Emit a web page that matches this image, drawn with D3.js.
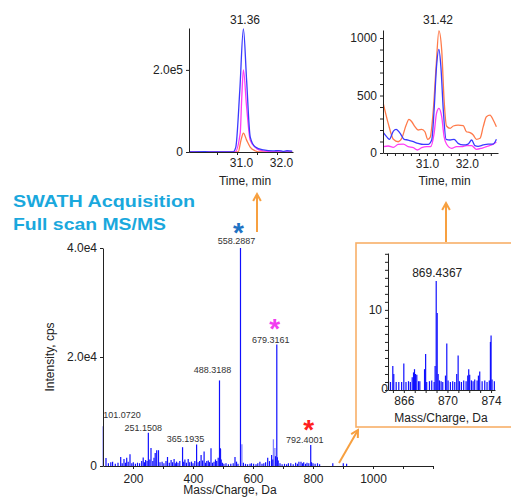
<!DOCTYPE html>
<html>
<head>
<meta charset="utf-8">
<script src="https://cdn.jsdelivr.net/npm/d3@7"></script>
<style>
  body { margin: 0; background: #fff; }
  text { font-family: Arial, "Liberation Sans", sans-serif; }
</style>
</head>
<body>
<script>
// ---- main SWATH MS/MS spectrum: [m/z, intensity]
var MAIN_PEAKS = [[101.07, 7300], [110, 1450], [118, 500], [126, 700], [132, 800], [141, 400], [150, 600],
    [159, 1650], [164, 500], [170, 1300], [175, 600], [179, 1500], [184, 800], [190, 2150], [196, 500],
    [201, 700], [208, 400], [215, 600], [222, 500], [229, 900], [234, 1550], [238, 700], [242, 1100],
    [247, 900], [251.15, 6100], [256, 1200], [260, 3300], [266, 900], [270, 1500], [274, 2400], [279, 2900],
    [285, 2900], [290, 700], [297, 800], [303, 500], [310, 900], [315, 1650], [321, 600], [327, 1100],
    [332, 700], [337, 1300], [341, 500], [345, 800], [350, 600], [356, 900], [365.19, 3450], [369, 800],
    [373, 1200], [378, 600], [384, 1300], [389, 700], [395, 800], [400, 500], [406, 900], [412, 3950],
    [417, 700], [422, 900], [427, 2000], [432, 1000], [437, 2650], [442, 600], [446, 900], [451, 1000],
    [455, 700], [460, 3250], [465, 600], [470, 800], [475, 1200], [479, 900], [484, 1500], [488.32, 15700],
    [489.6, 3300], [491, 3200], [494, 1200], [498, 600], [503, 400], [510, 500], [518, 300], [526, 400],
    [534, 500], [540, 1650], [545, 800], [550, 400], [558.29, 40000], [568, 600], [575, 400], [582, 300],
    [590, 400], [595, 500], [602, 400], [610, 300], [616, 500], [623, 800], [630, 400], [636, 500],
    [642, 700], [649, 1500], [655, 900], [662, 2000], [666, 1200], [675, 1800], [679.32, 22300], [681, 1600],
    [684, 1000], [690, 500], [697, 300], [705, 400], [712, 300], [718, 500], [726, 500], [734, 300],
    [742, 600], [748, 400], [753, 800], [760, 800], [765, 500], [769, 700], [775, 400], [780, 600],
    [786, 500], [792.4, 3850], [795, 700], [800, 500], [807, 400], [815, 500], [822, 300], [866, 500],
    [901, 500], [912, 400]];
var MAIN_LIGHT_PEAKS = [[492, 3100], [563, 4000], [668, 4900], [673, 3300]];
var MAIN_LABELS = [[101.0720, 7300], [251.1508, 6100], [365.1935, 3450], [488.3188, 15700],
    [558.2887, 40000], [679.3161, 22300], [792.4001, 3850]];
var STARRED = [[558.29, 40000, "#1f73c4"], [679.32, 22300, "#f23cf0"], [792.4, 3850, "#ff1f1f"]];
var MAIN_X_TICKS = [200, 300, 400, 500, 600, 700, 800, 900, 1000, 1100, 1200];
var MAIN_X_LABELS = [200, 400, 600, 800, 1000];
var MAIN_Y_TICKS = [0, 20000, 40000];
var MAIN_Y_LABELS = ["0", "2.0e4", "4.0e4"];

// ---- zoomed region around 869.4 (inset)
var INSET_PEAKS = [[864.6, 1.1], [864.78, 1], [864.99, 3.0], [865.08, 2.0], [865.3, 1], [865.54, 1],
    [865.8, 1], [866.0, 3.3], [866.2, 1], [866.43, 1.1], [866.6, 1], [866.77, 1.6], [866.89, 2.2],
    [866.98, 2.6], [867.07, 2.0], [867.19, 1.9], [867.35, 1.1], [867.47, 1.1], [867.9, 2.6], [868.0, 4.5],
    [868.1, 1], [868.35, 1.1], [868.56, 1.2], [868.78, 1], [868.87, 3.0], [868.97, 13.6], [869.06, 9.6],
    [869.15, 2.0], [869.27, 1.2], [869.42, 1.1], [869.57, 1], [869.82, 1.8], [869.94, 5.8], [870.06, 1.2],
    [870.27, 1], [870.48, 1.1], [870.67, 1], [870.85, 2.0], [870.98, 4.3], [871.1, 1.1], [871.28, 1],
    [871.49, 1.2], [871.71, 1.1], [871.86, 1.8], [871.95, 2.6], [872.04, 1.9], [872.2, 1.2], [872.35, 1.1],
    [872.5, 1.3], [872.72, 1.2], [872.84, 1.8], [872.96, 2.3], [873.18, 1.1], [873.42, 1.2], [873.63, 1],
    [873.84, 1.2], [873.94, 6.0], [874.0, 6.8], [874.09, 1.3], [874.3, 1.1]];
var INSET_LABEL = [868.97, 13.6, "869.4367"];
var INSET_X_LABELS = [866, 870, 874];
var INSET_Y_LABELS = [0, 10];

// ---- XIC, high intensity (left): [time, intensity]
var XIC1_BLUE = [[29.8, 0], [30.2, 600], [30.4, 0], [30.9, 0], [30.97, 12000], [31.07, 150000],
    [31.16, 300000], [31.24, 175000], [31.33, 37000], [31.45, 13000], [31.66, 5000], [31.9, 2500],
    [32.05, 3500], [32.15, 1500], [32.25, 3000], [32.38, 2000]];
var XIC1_PINK = [[29.8, 0], [30.95, 0], [31.08, 46000], [31.12, 135000], [31.16, 200000], [31.24, 110000],
    [31.33, 29000], [31.45, 12000], [31.55, 5000], [31.75, 1500], [32.38, 500]];
var XIC1_ORANGE = [[29.8, 0], [31.03, 0], [31.1, 29000], [31.16, 46000], [31.24, 29000], [31.33, 12000],
    [31.45, 3000], [31.55, 0], [32.38, 0]];

// ---- XIC, low intensity (right)
var XIC2_ORANGE = [[29.91, 426], [30.03, 258], [30.16, 119], [30.28, 98], [30.37, 128], [30.48, 243],
    [30.55, 293], [30.62, 272], [30.70, 229], [30.78, 200], [30.87, 206], [30.95, 185], [31.02, 119],
    [31.08, 136], [31.16, 374], [31.23, 750], [31.30, 1063], [31.37, 896], [31.43, 461], [31.49, 235],
    [31.58, 215], [31.66, 235], [31.78, 243], [31.91, 238], [31.99, 185], [32.08, 177], [32.16, 157],
    [32.24, 119], [32.33, 128], [32.41, 229], [32.49, 316], [32.58, 330], [32.66, 287], [32.74, 229]];
var XIC2_BLUE = [[29.91, 177], [29.99, 142], [30.06, 119], [30.16, 191], [30.23, 206], [30.33, 171],
    [30.43, 119], [30.53, 113], [30.66, 98], [30.78, 84], [30.91, 75], [31.03, 75], [31.12, 113],
    [31.18, 374], [31.24, 750], [31.30, 902], [31.35, 750], [31.41, 374], [31.48, 119], [31.58, 113],
    [31.68, 119], [31.78, 84], [31.91, 70], [32.03, 78], [32.12, 113], [32.20, 64], [32.28, 58],
    [32.41, 70], [32.53, 78], [32.66, 78], [32.74, 119]];
var XIC2_PINK = [[29.91, 55], [30.03, 61], [30.16, 49], [30.28, 75], [30.41, 78], [30.53, 55], [30.66, 46],
    [30.76, 26], [30.87, 46], [30.99, 55], [31.09, 55], [31.18, 171], [31.24, 345], [31.30, 389],
    [31.37, 316], [31.43, 142], [31.49, 78], [31.62, 41], [31.74, 55], [31.87, 55], [31.99, 64],
    [32.12, 64], [32.24, 32], [32.37, 41], [32.49, 55], [32.62, 70], [32.74, 96]];

var TEXT_COLOR = "#222";
var ARROW_COLOR = "#f7a040";
var BLUE = "#3a3aff", PINK = "#ff3cf5", ORANGE = "#ff7a4a";

var svg = d3.select("body").append("svg").attr("width", 511).attr("height", 499);

function style_axis(g, fs) {
    g.select(".domain").attr("stroke", "#222");
    g.selectAll(".tick line").attr("stroke", "#222");
    g.selectAll(".tick text").attr("fill", TEXT_COLOR).style("font-size", fs + "px")
        .style("font-family", "Arial, 'Liberation Sans', sans-serif");
}

function draw_arrow(x1, y1, x2, y2) {
    var ang = Math.atan2(y2 - y1, x2 - x1), len = 8, spread = 0.5;
    svg.append("line").attr("x1", x1).attr("y1", y1).attr("x2", x2).attr("y2", y2)
        .attr("stroke", ARROW_COLOR).attr("stroke-width", 2);
    var pts = [[x2 - len * Math.cos(ang - spread), y2 - len * Math.sin(ang - spread)], [x2, y2],
        [x2 - len * Math.cos(ang + spread), y2 - len * Math.sin(ang + spread)]];
    svg.append("path").attr("d", d3.line()(pts)).attr("fill", "none")
        .attr("stroke", ARROW_COLOR).attr("stroke-width", 2).attr("stroke-linejoin", "miter");
}

// ================= main spectrum
var mx = d3.scaleLinear().domain([100, 1200]).range([103, 433]);
var my = d3.scaleLinear().domain([0, 40000]).range([466, 248]);

var mainG = svg.append("g");
mainG.selectAll(".lpk").data(MAIN_LIGHT_PEAKS).enter().append("line")
    .attr("x1", function(d) { return mx(d[0]); }).attr("x2", function(d) { return mx(d[0]); })
    .attr("y1", my(0)).attr("y2", function(d) { return my(d[1]); })
    .attr("stroke", "#8585ff").attr("stroke-width", 1.3);
mainG.selectAll(".pk").data(MAIN_PEAKS).enter().append("line")
    .attr("x1", function(d) { return mx(d[0]); }).attr("x2", function(d) { return mx(d[0]); })
    .attr("y1", my(0)).attr("y2", function(d) { return my(d[1]); })
    .attr("stroke", "#1010ff").attr("stroke-width", 1.2);

var mxAxis = svg.append("g").attr("transform", "translate(0," + my(0) + ")")
    .call(d3.axisBottom(mx).tickValues(MAIN_X_TICKS).tickSize(3).tickSizeOuter(0)
        .tickFormat(function(d) { return MAIN_X_LABELS.indexOf(d) >= 0 ? d : ""; }));
style_axis(mxAxis, 12);
mxAxis.selectAll(".tick text").attr("dy", "0.95em");
var myAxis = svg.append("g").attr("transform", "translate(" + mx(100) + ",0)")
    .call(d3.axisLeft(my).tickValues(MAIN_Y_TICKS).tickSize(3).tickSizeOuter(0)
        .tickFormat(function(d, i) { return MAIN_Y_LABELS[i]; }));
style_axis(myAxis, 12);

svg.append("text").attr("x", 230).attr("y", 494).attr("text-anchor", "middle")
    .attr("fill", TEXT_COLOR).style("font-size", "12px").text("Mass/Charge, Da");
svg.append("text").attr("transform", "translate(54,357) rotate(-90)").attr("text-anchor", "middle")
    .attr("fill", TEXT_COLOR).style("font-size", "12px").text("Intensity, cps");

var labelShift = {"101.0720": [-1, -8], "251.1508": [-5, -2], "365.1935": [3, -5], "488.3188": [-7, -7],
    "558.2887": [-4, -4], "679.3161": [-6, -1], "792.4001": [-6, -2]};
svg.selectAll(".plab").data(MAIN_LABELS).enter().append("text")
    .attr("x", function(d) {
        var s = labelShift[d[0].toFixed(4)];
        return d[0] < 150 ? mx(d[0]) + s[0] + 1 : mx(d[0]) + s[0];
    })
    .attr("y", function(d) { return my(d[1]) + labelShift[d[0].toFixed(4)][1]; })
    .attr("text-anchor", function(d) { return d[0] < 150 ? "start" : "middle"; })
    .attr("fill", "#333").style("font-size", "9px")
    .text(function(d) { return d[0].toFixed(4); });

// coloured asterisks above the three fragment peaks that are followed in the XICs
svg.selectAll(".star").data(STARRED).enter().append("text")
    .attr("x", function(d) { return mx(d[0]) - 2; })
    .attr("y", function(d) { return my(d[1]) - 6; })
    .attr("text-anchor", "middle").attr("fill", function(d) { return d[2]; })
    .style("font-size", "28px").style("font-weight", "bold").text("*");

// SWATH title
svg.append("text").attr("x", 13).attr("y", 207).attr("fill", "#1aa8dd").style("font-size", "17px")
    .style("font-weight", "bold").attr("textLength", 182).attr("lengthAdjust", "spacingAndGlyphs")
    .text("SWATH Acquisition");
svg.append("text").attr("x", 13).attr("y", 230).attr("fill", "#1aa8dd").style("font-size", "17px")
    .style("font-weight", "bold").attr("textLength", 153).attr("lengthAdjust", "spacingAndGlyphs")
    .text("Full scan MS/MS");

// ================= inset
svg.append("rect").attr("x", 356).attr("y", 243).attr("width", 170).attr("height", 184)
    .attr("fill", "none").attr("stroke", "#f8b068").attr("stroke-width", 1.6);

var ix = d3.scaleLinear().domain([864.55, 874.36]).range([388, 495]);
var iy = d3.scaleLinear().domain([0, 17.1]).range([390, 253]);
svg.selectAll(".ipk").data(INSET_PEAKS).enter().append("line")
    .attr("x1", function(d) { return ix(d[0]); }).attr("x2", function(d) { return ix(d[0]); })
    .attr("y1", iy(0)).attr("y2", function(d) { return iy(d[1]); })
    .attr("stroke", "#1010ff").attr("stroke-width", 1.2);
var ixAxis = svg.append("g").attr("transform", "translate(0," + iy(0) + ")")
    .call(d3.axisBottom(ix).tickValues(d3.range(865, 875)).tickSize(3).tickSizeOuter(0)
        .tickFormat(function(d) { return INSET_X_LABELS.indexOf(d) >= 0 ? d : ""; }));
style_axis(ixAxis, 12);
var iyAxis = svg.append("g").attr("transform", "translate(" + ix.range()[0] + ",0)")
    .call(d3.axisLeft(iy).tickValues(d3.range(0, 18)).tickSize(3).tickSizeOuter(0)
        .tickFormat(function(d) { return INSET_Y_LABELS.indexOf(d) >= 0 ? d : ""; }));
style_axis(iyAxis, 12);
iyAxis.selectAll(".tick text").filter(function(d) { return d === 0; }).attr("x", 0).attr("dy", "0.2em");
svg.append("text").attr("x", 441).attr("y", 422).attr("text-anchor", "middle").attr("fill", TEXT_COLOR)
    .style("font-size", "12px").text("Mass/Charge, Da");
svg.append("text").attr("x", ix(INSET_LABEL[0]) + 1).attr("y", iy(INSET_LABEL[1]) - 4)
    .attr("text-anchor", "middle").attr("fill", TEXT_COLOR).style("font-size", "12px").text(INSET_LABEL[2]);

// ================= chromatograms
function draw_xic(opt) {
    var x = d3.scaleLinear().domain(opt.xdom).range(opt.xr);
    var y = d3.scaleLinear().domain(opt.ydom).range(opt.yr);
    var line = d3.line().x(function(d) { return x(d[0]); }).y(function(d) { return y(d[1]); })
        .curve(d3.curveMonotoneX);
    opt.series.forEach(function(s) {
        svg.append("path").attr("d", line(s[0])).attr("fill", "none").attr("stroke", s[1])
            .attr("stroke-width", 1.3).attr("stroke-linejoin", "round");
    });
    var xa = svg.append("g").attr("transform", "translate(0," + opt.yr[0] + ")")
        .call(d3.axisBottom(x).tickValues(opt.xticks).tickSize(3).tickSizeOuter(0)
            .tickFormat(function(d) { return (d === 31 || d === 32) ? d.toFixed(1) : ""; }));
    style_axis(xa, 12);
    xa.selectAll(".tick text").attr("dx", opt.labelDx);
    var ya = svg.append("g").attr("transform", "translate(" + opt.xr[0] + ",0)")
        .call(d3.axisLeft(y).tickValues(opt.yticks).tickSize(3).tickSizeOuter(0).tickFormat(opt.yfmt));
    style_axis(ya, 12);
    svg.append("text").attr("x", opt.titleX).attr("y", 24).attr("text-anchor", "middle")
        .attr("fill", TEXT_COLOR).style("font-size", "12px").text(opt.title);
    svg.append("text").attr("x", (opt.xr[0] + opt.xr[1]) / 2 + 4).attr("y", 185).attr("text-anchor", "middle")
        .attr("fill", TEXT_COLOR).style("font-size", "12px").text("Time, min");
}

draw_xic({xdom: [29.8, 32.4], xr: [189, 293], ydom: [0, 302000], yr: [152, 28],
    series: [[XIC1_ORANGE, ORANGE], [XIC1_PINK, PINK], [XIC1_BLUE, BLUE]],
    xticks: [30.5, 31, 31.5, 32], labelDx: 4,
    yticks: [0, 200000], yfmt: function(d) { return d === 0 ? "0" : "2.0e5"; },
    title: "31.36", titleX: 245});

draw_xic({xdom: [29.9, 32.78], xr: [383, 498], ydom: [0, 1070], yr: [153, 30],
    series: [[XIC2_ORANGE, ORANGE], [XIC2_PINK, PINK], [XIC2_BLUE, BLUE]],
    xticks: d3.range(30.0, 32.8, 0.2).map(function(v) { return Math.round(v * 10) / 10; }), labelDx: 0,
    yticks: d3.range(0, 1100, 100), yfmt: function(d) { return (d % 500 === 0) ? d : ""; },
    title: "31.42", titleX: 438});

// ================= arrows
draw_arrow(257, 232, 257, 194);
draw_arrow(446, 242, 446, 203);
draw_arrow(339, 463, 358, 430);
</script>
</body>
</html>
